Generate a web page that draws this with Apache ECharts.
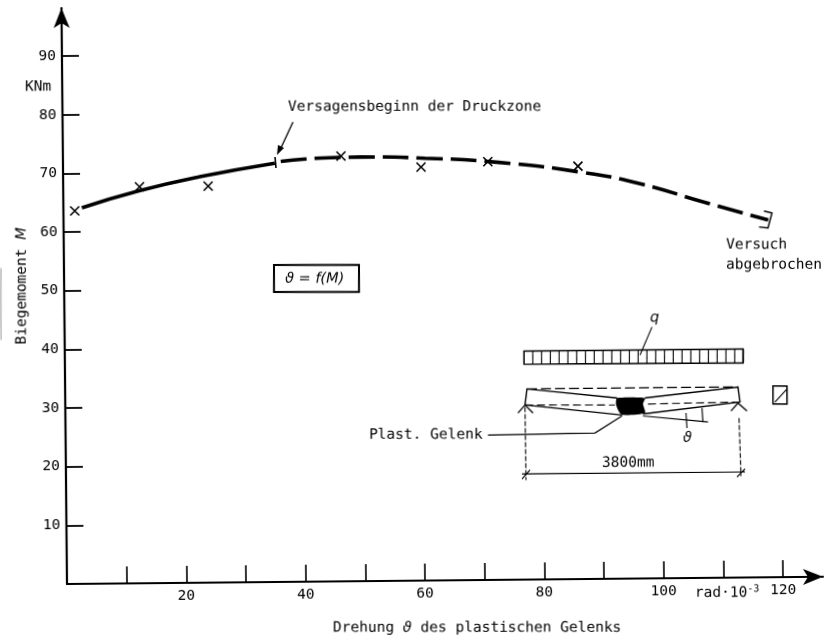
<!DOCTYPE html>
<html>
<head>
<meta charset="utf-8">
<title>Biegemoment</title>
<script src="https://cdn.jsdelivr.net/npm/echarts@6/dist/echarts.min.js"></script>
<style>
html, body { margin: 0; background: #fff; overflow: hidden; }
/* the scan is tilted a little, so the whole plot is too */
#main { width: 837px; height: 639px; transform: rotate(-0.55deg); transform-origin: 67px 584px; }
</style>
</head>
<body>
<div id="main"></div>
<script>
const solidX = [3.1, 12.7, 22.9, 35.5]
const solidY = [64.1, 66.9, 69.2, 71.4]
const dashX = [36.5, 43.4, 49.8, 60.7, 72.7, 86.6, 96.7, 107.2, 118.1]
const dashY = [71.7, 72.2, 72.3, 72.0, 71.2, 69.4, 67.3, 64.1, 60.9]
const crossX = [1.9, 12.8, 24.3, 46.6, 60.0, 71.2, 86.3]
const crossY = [63.6, 67.6, 67.6, 72.5, 70.5, 71.3, 70.4]
const xTicks = [10, 20, 30, 40, 50, 60, 70, 80, 90, 100, 110, 120]
const xLabels = [20, 40, 60, 80, 100, 120]
const yTicks = [10, 20, 30, 40, 50, 60, 70, 80, 90]

const ink = '#000'
const mono = '"DejaVu Sans Mono"'
const zip = (xs, ys) => xs.map((x, i) => [x, ys[i]])

const line = (pts, w, dash) => ({
 type: 'polyline',
 shape: { points: pts },
 style: { stroke: ink, lineWidth: w || 1.2, fill: null, lineDash: dash || null }
})
const text = (x, y, t, extra) => ({
 type: 'text',
 x: x,
 y: y,
 rotation: (extra && extra.rotation) || 0,
 style: Object.assign({
  text: t,
  fill: ink,
  font: '14.5px ' + mono,
  textVerticalAlign: 'middle',
  rich: {
   i: { font: 'italic 14.5px "DejaVu Sans"', fill: ink },
   m: { font: '14.5px ' + mono, fill: ink },
   s: { font: '10px ' + mono, fill: ink, padding: [0, 0, 8, 0] }
  }
 }, extra && extra.style)
})

// load strip cells
const loadCells = []
for (let i = 1; i < 26; i++) {
 const x = 524 + i * 8.78
 loadCells.push(line([[x, 351 - i * 0.08], [x, 364 - i * 0.04]], 1.1))
}

const notes = [
 // scan edge
 { type: 'line', shape: { x1: 1, y1: 268, x2: 1, y2: 340 }, style: { stroke: '#999', lineWidth: 1 } },
 text(25, 87, 'KNm'),
 text(22, 286, '{m|Biegemoment }{i|M}', { rotation: Math.PI / 2, style: { textAlign: 'center' } }),
 text(333, 628, '{m|Drehung }{i|ϑ}{m| des plastischen Gelenks}'),
 text(695, 593, '{m|rad·10}{s|-3}'),
 text(288, 107, 'Versagensbeginn der Druckzone'),
 text(726, 245, 'Versuch'),
 text(726, 265, 'abgebrochen'),
 // arrow to the start of failure
 line([[293, 122], [280, 150]], 1.3),
 { type: 'polygon', shape: { points: [[277, 155], [278, 145], [284, 148]] }, style: { fill: ink } },
 // marks on the curve
 line([[275, 157], [276, 168]], 1.6),
 line([[764, 211], [772, 213], [768, 228], [759, 227]], 1.4),
 // formula box
 { type: 'rect', shape: { x: 274, y: 265, width: 85, height: 27 }, style: { fill: null, stroke: ink, lineWidth: 2 } },
 text(285, 279, '{i|ϑ = f(M)}'),
 // load strip
 { type: 'polygon', shape: { points: [[524, 351], [743, 349], [743, 363], [524, 364]] }, style: { fill: null, stroke: ink, lineWidth: 1.5 } },
 ...loadCells,
 text(650, 318, '{i|q}'),
 line([[652, 327], [640, 355]], 1.1),
 // beam
 line([[527, 389], [738, 387]], 1.3, [10, 4]),
 line([[525, 405], [527, 389], [617, 398]], 1.4),
 line([[645, 398], [738, 387], [740, 402], [643, 414]], 1.4),
 line([[525, 405], [622, 415]], 1.4),
 line([[525, 405], [615, 405]], 1.1, [8, 4]),
 line([[648, 404], [738, 402]], 1.1, [8, 4]),
 {
  type: 'polygon',
  shape: { points: [[617, 398], [645, 398], [643, 404], [645, 413], [622, 415], [618, 410], [616, 404]], smooth: 0.2 },
  style: { fill: '#000' }
 },
 // supports
 line([[518, 413], [525, 405], [533, 413]], 1.3),
 line([[731, 411], [738, 403], [747, 411]], 1.3),
 // angle
 line([[643, 416], [708, 422]], 1.1),
 line([[702, 408], [703, 422]], 1.1),
 line([[686, 413], [687, 428]], 1.1),
 text(683, 438, '{i|ϑ}'),
 // plastic hinge
 text(369, 435, 'Plast. Gelenk'),
 line([[488, 435], [595, 433], [622, 416]], 1.2),
 // dimension
 text(602, 463, '3800mm'),
 line([[525, 407], [526, 480]], 1.1, [5, 2]),
 line([[739, 418], [741, 476]], 1.1, [5, 2]),
 line([[522, 474], [745, 472]], 1.2),
 line([[522, 479], [530, 470]], 1.2),
 line([[737, 477], [745, 469]], 1.2),
 // cross section
 { type: 'rect', shape: { x: 773, y: 386, width: 14, height: 18 }, style: { fill: null, stroke: ink, lineWidth: 1.5 } },
 line([[775, 402], [787, 389]], 1.1)
]

const setOption = () => {
 return {
  animation: false,
  grid: { left: 67, right: 14, top: 8, bottom: 55 },
  xAxis: {
   type: 'value',
   min: 0,
   max: 126.7,
   splitLine: { show: false },
   axisLine: { lineStyle: { color: ink, width: 2.2 }, symbol: ['none', 'arrow'], symbolSize: [12, 20] },
   axisTick: { show: true, inside: true, length: 17, customValues: xTicks, lineStyle: { color: ink, width: 1.6 } },
   axisLabel: { customValues: xLabels, margin: 6, color: ink, fontFamily: mono, fontSize: 14.5 }
  },
  yAxis: {
   type: 'value',
   min: 0,
   max: 98.2,
   splitLine: { show: false },
   axisLine: { show: true, lineStyle: { color: ink, width: 2.2 }, symbol: ['none', 'arrow'], symbolSize: [12, 20] },
   axisTick: { show: true, inside: true, length: 17, customValues: yTicks, lineStyle: { color: ink, width: 1.8 } },
   axisLabel: { customValues: yTicks, margin: 6, color: ink, fontFamily: mono, fontSize: 14.5 }
  },
  series: [
   {
    type: 'line',
    data: zip(solidX, solidY),
    smooth: true,
    showSymbol: false,
    lineStyle: { color: ink, width: 3.6 }
   },
   {
    type: 'line',
    data: zip(dashX, dashY),
    smooth: true,
    showSymbol: false,
    lineStyle: { color: ink, width: 3.6, type: [26, 8] }
   },
   {
    type: 'scatter',
    data: zip(crossX, crossY),
    symbol: 'path://M0 0L10 10M10 0L0 10',
    symbolSize: 9,
    itemStyle: { color: 'none', borderColor: ink, borderWidth: 1.6, opacity: 1 }
   }
  ],
  graphic: [{
   type: 'group',
   // undo the page tilt so notes can be placed as they sit on the scan
   rotation: -0.55 * Math.PI / 180,
   originX: 67,
   originY: 584,
   silent: true,
   children: notes
  }]
 }
}

const myChart = echarts.init(document.getElementById('main'), null, { renderer: 'canvas' })
myChart.setOption(setOption(), true)
</script>
</body>
</html>
